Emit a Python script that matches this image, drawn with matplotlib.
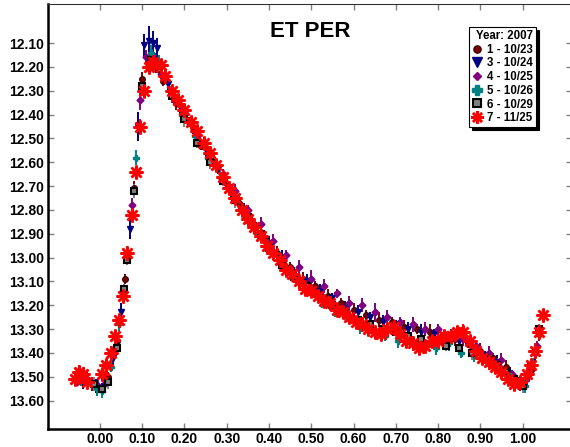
import numpy as np
import matplotlib.pyplot as plt
from matplotlib.lines import Line2D

plt.rcParams['font.family'] = ['Liberation Sans', 'DejaVu Sans']
plt.rcParams['font.weight'] = 'bold'

# 1 - 10/23
ph1 = [-0.05, -0.02, 0.00, 0.02, 0.04, 0.06, 0.08, 0.10, 0.12, 0.15, 0.18, 0.21, 0.24, 0.27,
       0.30, 0.33, 0.36, 0.39, 0.42, 0.45, 0.48, 0.51, 0.54, 0.57, 0.60, 0.63, 0.66, 0.69,
       0.72, 0.75, 0.78, 0.81, 0.84, 0.87, 0.90, 0.93, 0.96, 0.98, 1.00, 1.02, 1.04]
mag1 = [13.51, 13.53, 13.55, 13.50, 13.35, 13.09, 12.71, 12.25, 12.16, 12.26, 12.35, 12.43, 12.53, 12.60,
        12.69, 12.77, 12.85, 12.92, 12.98, 13.04, 13.09, 13.12, 13.16, 13.19, 13.22, 13.24, 13.26, 13.27,
        13.29, 13.30, 13.31, 13.33, 13.34, 13.36, 13.39, 13.42, 13.46, 13.51, 13.53, 13.47, 13.32]
err1 = [0.02, 0.03, 0.02, 0.02, 0.03, 0.02, 0.03, 0.03, 0.02, 0.02, 0.03, 0.02, 0.02, 0.03,
        0.02, 0.03, 0.02, 0.02, 0.03, 0.02, 0.03, 0.02, 0.03, 0.02, 0.03, 0.02, 0.03, 0.02,
        0.03, 0.02, 0.03, 0.02, 0.03, 0.02, 0.03, 0.02, 0.03, 0.02, 0.03, 0.02, 0.03]

# 3 - 10/24
ph3 = [-0.04, -0.01, 0.01, 0.03, 0.05, 0.07, 0.09, 0.105, 0.115, 0.125, 0.135, 0.16, 0.19, 0.22,
       0.25, 0.28, 0.31, 0.34, 0.37, 0.40, 0.43, 0.46, 0.49, 0.52, 0.55, 0.58, 0.61, 0.64,
       0.67, 0.70, 0.73, 0.76, 0.79, 0.82, 0.85, 0.88, 0.91, 0.94, 0.97, 0.99, 1.01, 1.03]
mag3 = [13.52, 13.54, 13.54, 13.42, 13.23, 12.88, 12.45, 12.11, 12.09, 12.10, 12.12, 12.27, 12.37, 12.46,
        12.55, 12.63, 12.72, 12.80, 12.87, 12.94, 13.00, 13.06, 13.10, 13.14, 13.17, 13.21, 13.23, 13.25,
        13.27, 13.28, 13.30, 13.31, 13.32, 13.34, 13.35, 13.38, 13.41, 13.44, 13.49, 13.52, 13.51, 13.41]
err3 = [0.03, 0.03, 0.02, 0.03, 0.04, 0.04, 0.06, 0.05, 0.06, 0.05, 0.04, 0.03, 0.03, 0.02,
        0.03, 0.02, 0.03, 0.03, 0.02, 0.03, 0.03, 0.02, 0.03, 0.03, 0.02, 0.03, 0.03, 0.02,
        0.03, 0.02, 0.03, 0.03, 0.02, 0.03, 0.02, 0.03, 0.02, 0.03, 0.03, 0.02, 0.03, 0.03]

# 4 - 10/25
ph4 = [-0.055, -0.03, -0.005, 0.015, 0.035, 0.055, 0.075, 0.095, 0.11, 0.13, 0.145, 0.17, 0.20, 0.23,
       0.26, 0.29, 0.32, 0.35, 0.38, 0.41, 0.44, 0.47, 0.50, 0.53, 0.56, 0.59, 0.62, 0.65,
       0.68, 0.71, 0.74, 0.77, 0.80, 0.83, 0.86, 0.89, 0.92, 0.95, 0.975, 0.995, 1.015, 1.035]
mag4 = [13.52, 13.51, 13.54, 13.52, 13.38, 13.16, 12.78, 12.34, 12.16, 12.17, 12.23, 12.32, 12.39, 12.49,
        12.56, 12.65, 12.72, 12.80, 12.86, 12.93, 12.99, 13.04, 13.09, 13.12, 13.15, 13.19, 13.20, 13.23,
        13.25, 13.27, 13.28, 13.30, 13.30, 13.33, 13.34, 13.37, 13.40, 13.43, 13.49, 13.53, 13.49, 13.37]
err4 = [0.02, 0.03, 0.03, 0.02, 0.03, 0.02, 0.03, 0.04, 0.03, 0.03, 0.02, 0.03, 0.02, 0.03,
        0.03, 0.02, 0.03, 0.02, 0.03, 0.03, 0.02, 0.03, 0.04, 0.03, 0.02, 0.03, 0.03, 0.04,
        0.03, 0.02, 0.03, 0.03, 0.02, 0.03, 0.03, 0.02, 0.03, 0.03, 0.02, 0.03, 0.03, 0.02]

# 5 - 10/26
ph5 = [-0.045, -0.025, -0.008, 0.005, 0.025, 0.045, 0.065, 0.085, 0.10, 0.12, 0.14, 0.165, 0.195, 0.225,
       0.255, 0.285, 0.315, 0.345, 0.375, 0.405, 0.435, 0.465, 0.495, 0.525, 0.555, 0.585, 0.615, 0.645,
       0.675, 0.705, 0.735, 0.765, 0.795, 0.825, 0.855, 0.885, 0.915, 0.945, 0.965, 0.985, 1.005, 1.025]
mag5 = [13.51, 13.52, 13.55, 13.56, 13.46, 13.28, 12.99, 12.58, 12.28, 12.14, 12.18, 12.30, 12.40, 12.49,
        12.58, 12.66, 12.75, 12.83, 12.90, 12.97, 13.03, 13.09, 13.14, 13.18, 13.22, 13.25, 13.29, 13.30,
        13.33, 13.35, 13.34, 13.37, 13.38, 13.36, 13.40, 13.41, 13.44, 13.46, 13.49, 13.52, 13.54, 13.45]
err5 = [0.03, 0.02, 0.03, 0.03, 0.02, 0.03, 0.03, 0.03, 0.04, 0.03, 0.03, 0.02, 0.03, 0.02,
        0.03, 0.03, 0.02, 0.03, 0.03, 0.02, 0.03, 0.03, 0.02, 0.03, 0.03, 0.02, 0.03, 0.03,
        0.02, 0.03, 0.03, 0.02, 0.03, 0.03, 0.02, 0.03, 0.02, 0.03, 0.03, 0.02, 0.03, 0.03]

# 6 - 10/29
ph6 = [-0.035, -0.015, 0.005, 0.02, 0.04, 0.058, 0.063, 0.08, 0.10, 0.12, 0.14, 0.17, 0.20, 0.23,
       0.26, 0.29, 0.32, 0.35, 0.38, 0.40, 0.43, 0.46, 0.49, 0.52, 0.55, 0.58, 0.61, 0.64,
       0.67, 0.70, 0.73, 0.76, 0.79, 0.82, 0.85, 0.88, 0.91, 0.94, 0.96, 0.98, 1.00, 1.02, 1.04]
mag6 = [13.50, 13.53, 13.55, 13.52, 13.38, 13.13, 13.01, 12.72, 12.28, 12.17, 12.21, 12.32, 12.42, 12.52,
        12.60, 12.68, 12.76, 12.83, 12.90, 12.96, 13.03, 13.08, 13.12, 13.16, 13.20, 13.23, 13.26, 13.28,
        13.30, 13.31, 13.33, 13.34, 13.35, 13.37, 13.38, 13.40, 13.42, 13.45, 13.48, 13.51, 13.54, 13.46, 13.30]
err6 = [0.02, 0.03, 0.02, 0.03, 0.02, 0.02, 0.02, 0.03, 0.03, 0.02, 0.03, 0.02, 0.03, 0.02,
        0.03, 0.02, 0.03, 0.02, 0.03, 0.02, 0.03, 0.02, 0.03, 0.03, 0.02, 0.03, 0.03, 0.02,
        0.03, 0.03, 0.02, 0.03, 0.03, 0.02, 0.03, 0.03, 0.02, 0.03, 0.03, 0.02, 0.03, 0.03, 0.02]

# 7 - 11/25
ph7 = [-0.06, -0.05, -0.04, -0.03, 0.005, 0.015, 0.025, 0.035, 0.045, 0.055, 0.065, 0.075, 0.085, 0.095,
       0.105, 0.115, 0.125, 0.135, 0.145, 0.155, 0.17, 0.185, 0.20, 0.215, 0.23, 0.245, 0.26, 0.275,
       0.29, 0.305, 0.32, 0.335, 0.35, 0.365, 0.38, 0.395, 0.41, 0.425, 0.44, 0.455, 0.47, 0.485,
       0.50, 0.515, 0.53, 0.545, 0.56, 0.575, 0.59, 0.605, 0.62, 0.635, 0.65, 0.665, 0.68, 0.695,
       0.71, 0.725, 0.74, 0.755, 0.77, 0.785, 0.80, 0.815, 0.83, 0.845, 0.86, 0.875, 0.89, 0.905,
       0.92, 0.935, 0.95, 0.965, 0.98, 0.995, 1.01, 1.02, 1.03, 1.04, 1.048]
mag7 = [13.51, 13.48, 13.49, 13.52, 13.49, 13.45, 13.40, 13.33, 13.26, 13.16, 12.98, 12.82, 12.64, 12.45,
        12.30, 12.20, 12.18, 12.19, 12.19, 12.24, 12.30, 12.34, 12.38, 12.43, 12.47, 12.52, 12.56, 12.61,
        12.66, 12.71, 12.75, 12.80, 12.84, 12.87, 12.91, 12.95, 12.98, 13.01, 13.05, 13.07, 13.10, 13.13,
        13.14, 13.16, 13.18, 13.19, 13.22, 13.23, 13.25, 13.27, 13.28, 13.30, 13.31, 13.32, 13.30, 13.29,
        13.32, 13.35, 13.36, 13.38, 13.37, 13.35, 13.35, 13.33, 13.33, 13.31, 13.31, 13.35, 13.39, 13.42,
        13.44, 13.46, 13.48, 13.51, 13.53, 13.52, 13.49, 13.45, 13.39, 13.31, 13.24]
err7 = [0.02, 0.03, 0.02, 0.02, 0.02, 0.02, 0.03, 0.02, 0.02, 0.02, 0.03, 0.02, 0.02, 0.03,
        0.02, 0.02, 0.02, 0.03, 0.02, 0.02, 0.02, 0.02, 0.03, 0.02, 0.02, 0.02, 0.03, 0.02,
        0.02, 0.02, 0.03, 0.02, 0.02, 0.02, 0.03, 0.02, 0.02, 0.02, 0.03, 0.02, 0.02, 0.02,
        0.03, 0.02, 0.02, 0.02, 0.03, 0.02, 0.02, 0.02, 0.03, 0.02, 0.02, 0.02, 0.03, 0.02,
        0.02, 0.02, 0.03, 0.02, 0.02, 0.02, 0.03, 0.02, 0.02, 0.02, 0.03, 0.02, 0.02, 0.02,
        0.03, 0.02, 0.02, 0.02, 0.03, 0.02, 0.02, 0.02, 0.03, 0.02, 0.02]

labels = ['1 - 10/23', '3 - 10/24', '4 - 10/25', '5 - 10/26', '6 - 10/29', '7 - 11/25']
xticks = [0.0, 0.1, 0.2, 0.3, 0.4, 0.5, 0.6, 0.7, 0.8, 0.9, 1.0]
yticks = [12.1, 12.2, 12.3, 12.4, 12.5, 12.6, 12.7, 12.8, 12.9, 13.0, 13.1, 13.2, 13.3, 13.4, 13.5, 13.6]

fig = plt.figure(figsize=(5.7, 4.47), dpi=100)
ax = fig.add_axes([48 / 570, 18 / 447, 524 / 570, 425 / 447])

styles = [
    dict(marker='o', color='#800000', ms=4, mfc='#800000', mec='#400000'),
    dict(marker='v', color='#000080', ms=5, mfc='#000080', mec='#000080'),
    dict(marker='D', color='#800080', ms=3.5, mfc='#800080', mec='#800080'),
    dict(marker='P', color='#008080', ms=5, mfc='#008080', mec='#008080'),
    dict(marker='s', color='black', ms=4.5, mfc='#808080', mec='black', mew=1.5),
    dict(marker=(8, 2, 0), color='red', ms=10, mfc='red', mec='red', mew=1.8),
]
data = [(ph1, mag1, err1), (ph3, mag3, err3), (ph4, mag4, err4),
        (ph5, mag5, err5), (ph6, mag6, err6), (ph7, mag7, err7)]
ecolors = ['#800000', '#000080', '#800080', '#008080', '#808080', 'red']

for (ph, mag, err), st, ec in zip(data, styles, ecolors):
    ax.errorbar(ph, mag, yerr=err, ls='none', ecolor=ec, elinewidth=1.4, capsize=0, **st)

ax.set_xlim(-0.123, 1.117)
ax.set_ylim(13.719, 11.936)
ax.set_xticks(xticks)
ax.set_yticks(yticks)
ax.set_xticklabels(['%.2f' % v for v in xticks], fontsize=10, fontweight='bold')
ax.set_yticklabels(['%.2f' % v for v in yticks], fontsize=10, fontweight='bold')
ax.tick_params(direction='in', length=4, width=1, color='#808080', pad=3,
               top=True, right=True)
ax.tick_params(axis='x', pad=2)

for side in ['left', 'bottom']:
    ax.spines[side].set_linewidth(1.8)
ax.spines['top'].set_linewidth(0.8)
ax.spines['top'].set_color('#333333')

ax.text(0.5, 0.935, 'ET PER', transform=ax.transAxes, ha='center', va='center',
        fontsize=16, fontweight='bold')

# legend with marker-only handles
handles = []
for st in styles:
    hs = dict(st)
    hs['ms'] = hs['ms'] * 1.3 if hs['marker'] != (8, 2, 0) else 9
    handles.append(Line2D([], [], ls='none', **hs))
leg = ax.legend(handles, labels, loc='upper right', bbox_to_anchor=(536 / 570, 1 - 27 / 447),
                bbox_transform=fig.transFigure, title='Year: 2007', alignment='right',
                prop={'size': 8.3, 'weight': 'bold'},
                title_fontproperties={'size': 8.3, 'weight': 'bold'},
                frameon=True, fancybox=False, shadow={'color': 'black', 'alpha': 1},
                borderpad=0.25, labelspacing=0.15, handlelength=0.9, handletextpad=0.4,
                borderaxespad=0)
leg.get_frame().set_edgecolor('black')
leg.get_frame().set_linewidth(0.8)

fig.savefig('out.png', dpi=100)
